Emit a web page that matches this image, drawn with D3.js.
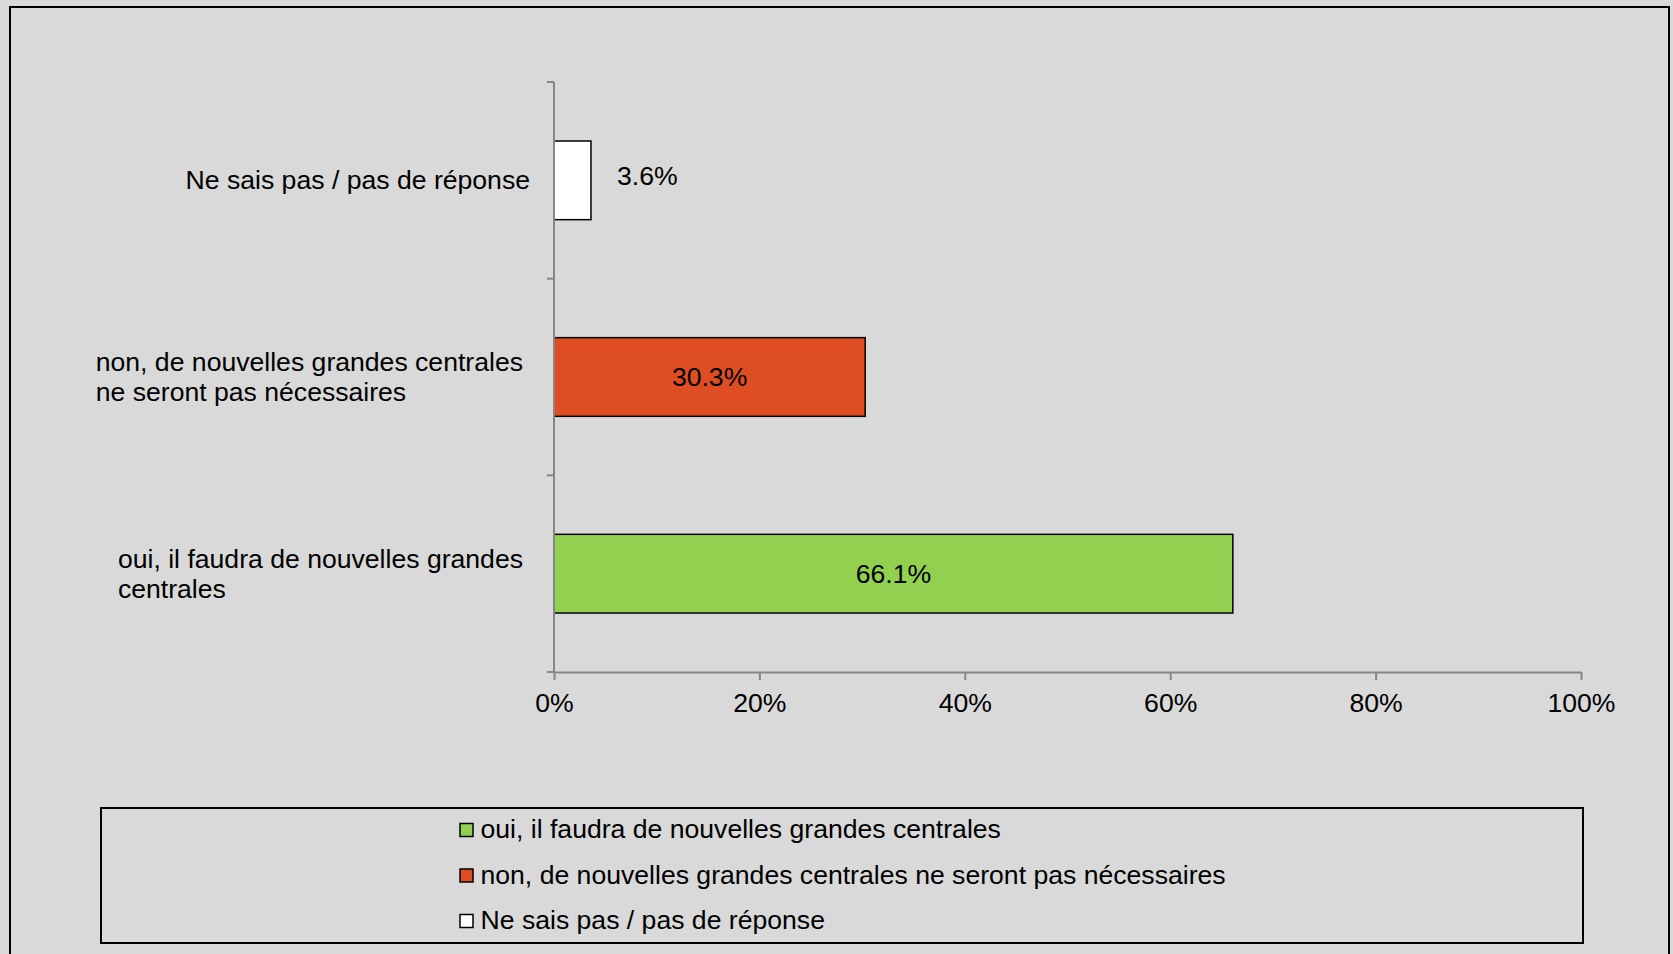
<!DOCTYPE html>
<html>
<head>
<meta charset="utf-8">
<script src="https://cdn.jsdelivr.net/npm/d3@7/dist/d3.min.js"></script>
<style>
  html, body { margin: 0; padding: 0; background: #D9D9D9; }
  svg { display: block; }
  text { font-family: "Liberation Sans", Arial, Helvetica, sans-serif; }
</style>
</head>
<body>
<svg id="chart" width="1673" height="954"></svg>
<script>
// ---- data ----
const categories = [
  "oui, il faudra de nouvelles grandes centrales",
  "non, de nouvelles grandes centrales ne seront pas nécessaires",
  "Ne sais pas / pas de réponse"
];
const values = [66.1, 30.3, 3.6];
const colors = ["#92D050", "#DF4E22", "#FFFFFF"];
const xTicks = [0, 20, 40, 60, 80, 100];

// ---- layout ----
const W = 1673, H = 954;
const plot = { left: 554, right: 1581, top: 82, bottom: 672 };
const fontSize = 26.6;

const svg = d3.select("#chart");
svg.append("rect").attr("x", 0).attr("y", 0).attr("width", W).attr("height", H).attr("fill", "#D9D9D9");
svg.append("rect").attr("x", 10).attr("y", 7).attr("width", 1659).attr("height", 960)
  .attr("fill", "none").attr("stroke", "#000").attr("stroke-width", 2);

const x = d3.scaleLinear().domain([0, 100]).range([plot.left, plot.right]);
const y = d3.scaleBand().domain(categories.slice().reverse())
  .range([plot.top, plot.bottom]).paddingInner(0.6).paddingOuter(0.3);

const data = categories.map((c, i) => ({ cat: c, value: values[i], color: colors[i] }));

// bars
svg.append("g").selectAll("rect").data(data).join("rect")
  .attr("x", x(0))
  .attr("y", d => y(d.cat))
  .attr("width", d => x(d.value) - x(0))
  .attr("height", y.bandwidth())
  .attr("fill", d => d.color)
  .attr("stroke", "#000").attr("stroke-width", 1.5);

// x axis
const xAxis = svg.append("g").attr("transform", `translate(0,${plot.bottom})`)
  .call(d3.axisBottom(x).tickValues(xTicks).tickFormat(d => d + "%").tickSize(8).tickSizeOuter(0).tickPadding(13));
xAxis.select(".domain").attr("stroke", "#868686").attr("stroke-width", 2);
xAxis.selectAll(".tick line").attr("stroke", "#868686").attr("stroke-width", 2);
xAxis.selectAll(".tick text").attr("font-size", fontSize).attr("fill", "#000")
  .style("font-family", '"Liberation Sans", Arial, sans-serif');

// y axis line and category boundary ticks
const nCat = y.domain().length;
const boundaryYs = d3.range(nCat + 1).map(i => plot.top + i * (plot.bottom - plot.top) / nCat);
const yg = svg.append("g");
yg.append("line").attr("x1", plot.left).attr("x2", plot.left).attr("y1", plot.top).attr("y2", plot.bottom)
  .attr("stroke", "#868686").attr("stroke-width", 2);
yg.selectAll("line.t").data(boundaryYs).join("line").attr("class", "t")
  .attr("x1", plot.left - 7).attr("x2", plot.left).attr("y1", d => d).attr("y2", d => d)
  .attr("stroke", "#868686").attr("stroke-width", 2);

// category labels (wrapped)
const measure = svg.append("text").attr("font-size", fontSize).attr("visibility", "hidden");
function textWidth(s) { measure.text(s); return measure.node().getComputedTextLength(); }
function wrap(s, maxW) {
  const words = s.split(" "); const lines = []; let cur = "";
  words.forEach(w => {
    const t = cur ? cur + " " + w : w;
    if (textWidth(t) > maxW && cur) { lines.push(cur); cur = w; } else cur = t;
  });
  if (cur) lines.push(cur);
  return lines;
}
const lineH = 30;
data.forEach(d => {
  const lines = wrap(d.cat, 445);
  const maxW = d3.max(lines, textWidth);
  const cy = y(d.cat) + y.bandwidth() / 2;
  const rightEdge = lines.length > 1 ? 523 : 530;
  const left = rightEdge - maxW;
  const firstBase = cy + 9 - (lines.length - 1) * lineH / 2;
  const t = svg.append("text").attr("font-size", fontSize).attr("fill", "#000");
  lines.forEach((ln, i) => {
    t.append("tspan").attr("x", left).attr("y", firstBase + i * lineH).text(ln);
  });
});
measure.remove();

// value labels
svg.append("g").selectAll("text").data(data).join("text")
  .attr("font-size", fontSize).attr("fill", "#000")
  .attr("text-anchor", d => d.value < 10 ? "start" : "middle")
  .attr("x", d => d.value < 10 ? x(d.value) + 26 : (x(0) + x(d.value)) / 2)
  .attr("y", d => y(d.cat) + y.bandwidth() / 2 + (d.value < 10 ? 4.5 : 9))
  .text(d => d.value.toFixed(1) + "%");

// legend
const legend = { x: 101, y: 808, w: 1482, h: 135 };
svg.append("rect").attr("x", legend.x).attr("y", legend.y).attr("width", legend.w).attr("height", legend.h)
  .attr("fill", "none").attr("stroke", "#000").attr("stroke-width", 2);
const li = svg.append("g").selectAll("g").data(data).join("g")
  .attr("transform", (d, i) => `translate(460,${823.5 + i * 45.5})`);
li.append("rect").attr("x", 0).attr("y", 0).attr("width", 13).attr("height", 13)
  .attr("fill", d => d.color).attr("stroke", "#000").attr("stroke-width", 1.5);
li.append("text").attr("x", 20.5).attr("y", 14.5).attr("font-size", fontSize).attr("fill", "#000")
  .text(d => d.cat);
</script>
</body>
</html>
